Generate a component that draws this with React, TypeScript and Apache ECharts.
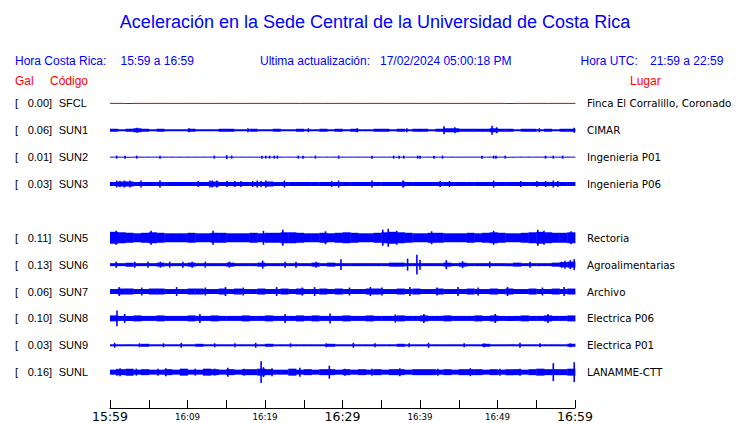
import React, { useEffect, useRef } from 'react';
import * as echarts from 'echarts';

const TITLE = 'Aceleración en la Sede Central de la Universidad de Costa Rica';
const LOCAL_LABEL = 'Hora Costa Rica:';
const LOCAL_RANGE = '15:59 a 16:59';
const UPDATE_LABEL = 'Ultima actualización:';
const UPDATED = '17/02/2024 05:00:18 PM';
const UTC_LABEL = 'Hora UTC:';
const UTC_RANGE = '21:59 a 22:59';
const COL_GAL = 'Gal';
const COL_CODE = 'Código';
const COL_PLACE = 'Lugar';

// x axis: minutes since 15:59
const TIME_LABELS = ['15:59', '16:09', '16:19', '16:29', '16:39', '16:49', '16:59'];
const MAJOR_MINUTES = [0, 30, 60];

const CODES = ['SFCL', 'SUN1', 'SUN2', 'SUN3', 'SUN5', 'SUN6', 'SUN7', 'SUN8', 'SUN9', 'SUNL'];
const ROWS = [0, 1, 2, 3, 5, 6, 7, 8, 9, 10];
const PEAK_GAL = [0.0, 0.06, 0.01, 0.03, 0.11, 0.13, 0.06, 0.1, 0.03, 0.16];
const PLACES = [
  'Finca El Corralillo, Coronado',
  'CIMAR',
  'Ingenieria P01',
  'Ingenieria P06',
  'Rectoria',
  'Agroalimentarias',
  'Archivo',
  'Electrica P06',
  'Electrica P01',
  'LANAMME-CTT',
];

// envelope half-amplitude per minute (relative units, 27 = one trace spacing)
const ENV_SFCL = [0.5,0.5,0.5,0.5,0.5,0.5,0.5,0.5,0.5,0.5,0.5,0.5,0.5,0.5,0.5,0.5,0.5,0.5,0.5,0.5,0.5,0.5,0.5,0.5,0.5,0.5,0.5,0.5,0.5,0.5,0.5,0.5,0.5,0.5,0.5,0.5,0.5,0.5,0.5,0.5,0.5,0.5,0.5,0.5,0.5,0.5,0.5,0.5,0.5,0.5,0.5,0.5,0.5,0.5,0.5,0.5,0.5,0.5,0.5,0.5];
const ENV_SUN1 = [1.5,1,1.5,2,1.5,1,1.5,1,1,1,1.5,1,1,1,1.5,1.5,1,1,1.5,1,1,1.5,1,1,1.5,1,1,1.5,1,1.5,1,1.5,1,1,1.5,1.5,1,1.5,1,1.5,1.5,1,1.5,2,2,1.5,1.5,1.5,1.5,2,1.5,1.5,1,1.5,1.5,1,1.5,1,1.5,1.5];
const ENV_SUN2 = [0.5,0.5,0.5,0.5,0.5,0.5,0.5,0.5,0.5,0.5,0.5,0.5,0.5,0.5,0.5,0.5,0.5,0.5,0.5,0.5,0.5,0.5,0.5,0.5,0.5,0.5,0.5,0.5,0.5,0.5,0.5,0.5,0.5,0.5,0.5,0.5,0.5,0.5,0.5,0.5,0.5,0.5,0.5,0.5,0.5,0.5,0.5,0.5,0.5,0.5,0.5,0.5,0.5,0.5,0.5,0.5,0.5,0.5,0.5,0.5];
const ENV_SUN3 = [2,2.5,2.5,2,2,2,2,2,2,2,2,2,2,2.5,2,2,2,2,2,2,2.5,2,2,2,2,2,2,2,2,2,2,2,2,2,2,2,2,2,2,2,2,2,2,2,2,2,2,2,2,2,2,2,2,2,2,2,2,2,2,2];
const ENV_SUN5 = [6,5.5,5,4.5,5,5.5,5,4.5,4.5,4.5,5,4.5,4.5,5,5,4.5,4.5,4.5,5,4.5,5,5,5.5,5.5,5,4.5,4.5,5,4.5,5,5.5,5,4.5,4.5,5,5.5,6,5.5,5,4.5,4.5,5,5,4.5,4.5,4.5,5,4.5,5,5.5,5,4.5,4.5,5,5.5,6,5.5,5,5,5.5];
const ENV_SUN6 = [1.5,1.5,2,1.5,1.5,1.5,2,1.5,1.5,1.5,2,1.5,1.5,1.5,1.5,2,1.5,1.5,1.5,2,1.5,1.5,1.5,1.5,1.5,1.5,2,1.5,2,1.5,1.5,1.5,1.5,1.5,1.5,1.5,2,2,1.5,1.5,1.5,1.5,1.5,2,1.5,2,1.5,1.5,1.5,1.5,1.5,1.5,2,1.5,1.5,1.5,1.5,2,2.5,3];
const ENV_SUN7 = [2.5,3,3,2.5,2.5,3,3,2.5,2.5,2.5,3,3,2.5,2.5,3,2.5,3,2.5,2.5,3,2.5,2.5,3,2.5,3,2.5,2.5,3,2.5,3,2.5,2.5,2.5,3,3,2.5,2.5,3,2.5,3,2.5,2.5,3,2.5,2.5,2.5,3,2.5,2.5,3,2.5,3,2.5,2.5,3,2.5,2.5,3,2.5,3];
const ENV_SUN8 = [3,2.5,2.5,3,2.5,2.5,3,2.5,2.5,2.5,3,2.5,2.5,3,2.5,2.5,2.5,3,2.5,2.5,3,2.5,2.5,2.5,3,2.5,3,2.5,2.5,2.5,3,2.5,2.5,3,2.5,2.5,2.5,3,2.5,2.5,3,2.5,2.5,3,2.5,2.5,2.5,3,2.5,3,2.5,2.5,2.5,3,2.5,2.5,3,2.5,2.5,3];
const ENV_SUN9 = [1,1,1,1,1.5,1,1,1,1,1,1,1.5,1,1,1,1,1,1,1,1,1.5,1,1,1,1,1,1,1,1.5,1,1,1,1,1,1,1,1,1.5,1,1,1,1,1,1,1,1,1,1,1.5,1,1,1,1,1,1,1,1,1,1,1.5];
const ENV_SUNL = [2.5,3,3.5,2.5,3,2.5,2.5,3,2.5,3.5,2.5,2.5,3.5,3,2.5,3,2.5,3,3,3.5,3,2.5,2.5,3.5,2.5,3,2.5,3,3,2.5,3,2.5,3,2.5,3,2.5,3,3,2.5,3,3,3,2.5,3,2.5,3,3,3,2.5,3,2.5,3,3,2.5,3,3.5,3,3,3,3.5];

// isolated peaks: [minute, half-amplitude]
const SPK_SFCL: number[][] = [];
const SPK_SUN1 = [[3.5,2.5],[10.2,2],[17.8,2],[25.6,2],[31.9,2],[38.3,2],[43.1,4],[44.5,3],[49.3,4.5],[49.9,3],[55.4,2],[59.9,2.5]];
const SPK_SUN2 = [[0.86,1.5],[1.94,1.5],[3.44,1.5],[6.45,1.5],[13.46,1.5],[15.06,2],[15.7,1.5],[19.6,1.5],[20.1,1.5],[20.6,1.5],[21.2,1.5],[21.6,1.5],[24.3,1.5],[24.9,1.5],[26.5,1.5],[29.5,1.5],[33.8,1.5],[36.6,1.5],[37.3,1.5],[37.9,1.5],[39.7,1.5],[40.0,1.5],[41.8,1.5],[42.9,1.5],[48.0,1.5],[49.5,1.5],[49.8,1.5],[51.0,1.5],[56.2,1.5],[57.2,1.5],[58.4,1.5]];
const SPK_SUN3 = [[0.86,3.5],[1.29,3],[1.85,3.5],[2.58,3.5],[4.0,3.5],[6.45,3.5],[11.4,3],[12.9,3.5],[13.2,3.5],[13.8,3.5],[15.1,3],[16.1,3],[16.9,3],[18.4,3],[19.0,3.5],[19.5,3],[20.1,3.5],[22.5,3.5],[28.6,3],[29.5,3.5],[33.8,3.5],[37.8,3.5],[37.9,3],[42.6,3],[43.8,3],[49.5,3.5],[53.0,3],[55.1,3],[56.2,3],[57.2,3.5],[57.8,3]];
const SPK_SUN5 = [[0.8,7],[5.3,7],[13.3,7],[19.8,7],[22.3,8],[27.8,6.5],[35.2,8],[35.9,9],[37,7],[41.5,6.5],[49.5,7],[55.2,8],[56,7],[59.5,6.5]];
const SPK_SUN6 = [[0.8,3],[3.2,3],[4.9,3],[6.5,3],[7.7,3],[9.4,3],[10.6,3],[12.3,3],[15.4,3],[19.7,4],[22.6,3],[24,3],[26.6,3],[29.8,5.5],[38.4,6],[39.6,10],[40,5],[43.4,4.5],[45.5,3.5],[49,3],[54.2,3],[58.3,3],[58.7,4],[59.4,4.5],[59.9,5.5]];
const SPK_SUN7 = [[1.2,4.5],[4.1,4],[8.6,4.5],[12.3,4],[14.9,4.5],[17.2,4],[21.5,4.5],[24.8,4],[26.4,4.5],[30.9,4],[33.6,4.5],[35.1,4],[38.7,4.5],[42.2,4],[44.9,4.5],[47.5,4],[51.3,4.5],[55.8,4],[58.6,4.5]];
const SPK_SUN8 = [[0.9,8],[1.9,4.5],[11.6,4.5],[22.6,4.5],[28.4,5],[36.8,4],[40.5,4.5],[49.7,4.5],[56.5,4.5]];
const SPK_SUN9 = [[0.6,2.5],[3.8,2],[6.9,2],[9.2,2.5],[13.5,2],[16.1,2],[18.8,2.5],[23.3,2],[27.9,2],[31.4,2.5],[34.2,2],[38.6,2],[41.1,2.5],[45.7,2],[48.3,2],[52.9,2.5],[55.5,2],[59.4,2]];
const SPK_SUNL = [[0.9,3.5],[1.3,4],[3.4,3.5],[6.2,3.5],[7.2,4],[11,3.5],[13.5,3.5],[15.2,4.5],[17.3,3.5],[19.5,11],[19.8,5],[20.9,4],[24.5,4.5],[28.3,6.5],[30.3,3.5],[33.8,3.5],[37.4,4],[42.3,3.5],[46.5,4],[50.3,3.5],[52.9,3.5],[57.2,9],[59.9,10]];

const ENVELOPES = [ENV_SFCL, ENV_SUN1, ENV_SUN2, ENV_SUN3, ENV_SUN5, ENV_SUN6, ENV_SUN7, ENV_SUN8, ENV_SUN9, ENV_SUNL];
const PEAKS = [SPK_SFCL, SPK_SUN1, SPK_SUN2, SPK_SUN3, SPK_SUN5, SPK_SUN6, SPK_SUN7, SPK_SUN8, SPK_SUN9, SPK_SUNL];

const AMP_PER_ROW = 27;
const BLUE = '#0000ff';
const RED = '#ff0000';
const TRACE_RED = '#d40000';

export default function App() {
  const ref = useRef<HTMLDivElement>(null);
  useEffect(() => {
    if (!ref.current) return;
    const chart = echarts.init(ref.current, null, { renderer: 'svg' });

    const series: any[] = [];
    CODES.forEach((code, i) => {
      const row = ROWS[i];
      const color = i === 0 ? TRACE_RED : BLUE;
      series.push({
        type: 'custom',
        name: code + '-env',
        coordinateSystem: 'cartesian2d',
        silent: true,
        data: ENVELOPES[i].map((a, k) => [k, row, a]),
        renderItem: (params: any, api: any) => {
          const t = api.value(0);
          const r = api.value(1);
          const a = api.value(2) / AMP_PER_ROW;
          const p0 = api.coord([t, r - a]);
          const p1 = api.coord([t + 1, r + a]);
          return {
            type: 'rect',
            shape: { x: p0[0], y: p0[1], width: p1[0] - p0[0] + 0.4, height: p1[1] - p0[1] },
            style: { fill: color },
          };
        },
      });
      series.push({
        type: 'custom',
        name: code + '-peaks',
        coordinateSystem: 'cartesian2d',
        silent: true,
        data: PEAKS[i].map((p) => [p[0], row, p[1]]),
        renderItem: (params: any, api: any) => {
          const t = api.value(0);
          const r = api.value(1);
          const a = api.value(2) / AMP_PER_ROW;
          const p0 = api.coord([t, r - a]);
          const p1 = api.coord([t, r + a]);
          return {
            type: 'rect',
            shape: { x: p0[0] - 0.8, y: p0[1], width: 1.6, height: p1[1] - p0[1] },
            style: { fill: color },
          };
        },
      });
    });

    const rowIndex = (v: number) => ROWS.indexOf(Math.round(v));

    const headerFont = { fontFamily: 'Liberation Sans, Arial, sans-serif', fontSize: 12 };
    const txt = (x: number, y: number, text: string, fill: string, extra: any = {}) => ({
      type: 'text',
      x,
      y,
      style: { text, fill, ...headerFont, verticalAlign: 'middle', align: 'left', ...extra },
    });

    chart.setOption({
      animation: false,
      backgroundColor: '#ffffff',
      grid: { left: 110, width: 465, top: 76.5, height: 333, containLabel: false },
      xAxis: {
        type: 'value',
        min: 0,
        max: 60,
        interval: 5,
        axisLine: { show: true, onZero: false, lineStyle: { color: '#000', width: 1 } },
        axisTick: { show: true, inside: true, length: 8, lineStyle: { color: '#000', width: 1 } },
        splitLine: { show: false },
        axisLabel: {
          margin: 2,
          color: '#000',
          fontFamily: 'DejaVu Sans',
          formatter: (v: number) => {
            if (v % 10 !== 0) return '';
            const label = TIME_LABELS[v / 10];
            return MAJOR_MINUTES.includes(v) ? `{big|${label}}` : `{small|${label}}`;
          },
          rich: {
            big: { fontFamily: 'DejaVu Sans', fontSize: 12.5, color: '#000' },
            small: { fontFamily: 'DejaVu Sans', fontSize: 8.7, color: '#000', padding: [2, 0, 0, 0] },
          },
        },
      },
      yAxis: [
        {
          type: 'value',
          inverse: true,
          min: -1,
          max: 34 / 3,
          interval: 1,
          position: 'left',
          axisLine: { show: false },
          axisTick: { show: false },
          splitLine: { show: false },
          axisLabel: {
            align: 'left',
            margin: 95,
            formatter: (v: number) => {
              const i = rowIndex(v);
              if (i < 0 || Math.abs(v - ROWS[i]) > 0.01) return '';
              return `{br|[}{v|${PEAK_GAL[i].toFixed(2)}]}{c|${CODES[i]}}`;
            },
            rich: {
              br: { width: 12.7, fontFamily: 'Liberation Sans', fontSize: 11, color: '#000' },
              v: { width: 31, fontFamily: 'Liberation Sans', fontSize: 11, color: '#000' },
              c: { fontFamily: 'Liberation Sans', fontSize: 11, color: '#000' },
            },
          },
        },
        {
          type: 'value',
          inverse: true,
          min: -1,
          max: 34 / 3,
          interval: 1,
          position: 'right',
          axisLine: { show: false },
          axisTick: { show: false },
          splitLine: { show: false },
          axisLabel: {
            margin: 12,
            color: '#000',
            fontFamily: 'DejaVu Sans',
            fontSize: 10.3,
            formatter: (v: number) => {
              const i = rowIndex(v);
              if (i < 0 || Math.abs(v - ROWS[i]) > 0.01) return '';
              return PLACES[i];
            },
          },
        },
      ],
      graphic: [
        {
          type: 'text',
          x: 375,
          y: 22,
          style: {
            text: TITLE,
            fill: BLUE,
            fontFamily: 'Liberation Sans, Arial, sans-serif',
            fontSize: 18,
            align: 'center',
            verticalAlign: 'middle',
          },
        },
        txt(15, 60.5, LOCAL_LABEL, BLUE),
        txt(120.5, 60.5, LOCAL_RANGE, BLUE),
        txt(260, 60.5, UPDATE_LABEL, BLUE),
        txt(380, 60.5, UPDATED, BLUE),
        txt(580.5, 60.5, UTC_LABEL, BLUE),
        txt(650, 60.5, UTC_RANGE, BLUE),
        txt(15, 80.5, COL_GAL, RED),
        txt(50, 80.5, COL_CODE, RED),
        txt(630, 80.5, COL_PLACE, RED),
      ],
      series,
    });
    return () => chart.dispose();
  }, []);
  return (
    <div
      ref={ref}
      style={{ position: 'fixed', left: 0, top: 0, width: 740, height: 423, background: '#fff' }}
    />
  );
}
